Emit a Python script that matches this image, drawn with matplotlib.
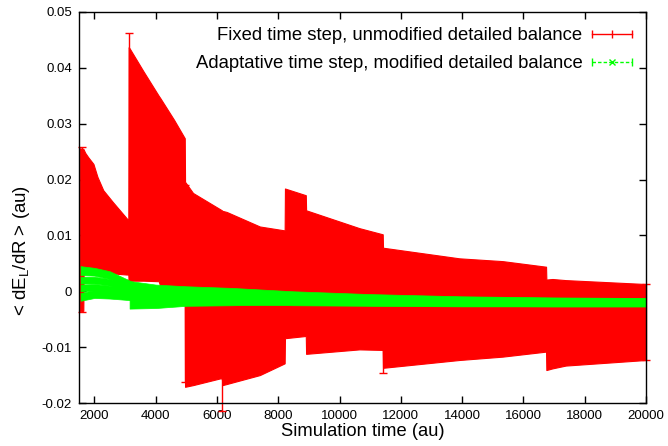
import numpy as np
import matplotlib
matplotlib.use("Agg")
import matplotlib.pyplot as plt
from matplotlib.lines import Line2D
from matplotlib.legend_handler import HandlerTuple, HandlerLine2D

plt.rcParams['font.family'] = ['Liberation Sans', 'DejaVu Sans']

# ---------------- data ----------------
# Fixed time step: envelope of the (dense) error bars
red_t = [1520, 1640, 1650, 1700, 1800, 1970, 2100, 2290, 2600, 3050, 3110, 3120,
         3150, 3600, 4100, 4150, 4600, 4950, 4960, 5220, 6100, 6160, 6180, 6320,
         7400, 8210, 8220, 8900, 8910, 10650, 11410, 11420, 13910, 15320, 16740,
         16750, 16950, 17380, 20000]
red_hi = [0.0256, 0.0255, 0.0254, 0.0248, 0.0240, 0.0228, 0.0205, 0.0181, 0.0160,
          0.0131, 0.0127, 0.0437, 0.0435, 0.0394, 0.0350, 0.0346, 0.0307, 0.0274,
          0.0196, 0.0176, 0.0147, 0.0145, 0.0144, 0.0142, 0.0116, 0.0109, 0.0184,
          0.0172, 0.0145, 0.0113, 0.0102, 0.0078, 0.0059, 0.0054, 0.0044, 0.0021,
          0.0022, 0.0020, 0.0013]
red_lo = [-0.0035, -0.0035, 0.0035, 0.0035, 0.0035, 0.0034, 0.0034, 0.0033, 0.0032,
          0.0030, 0.0030, 0.0019, 0.0019, 0.0019, 0.0018, 0.0009, 0.0008, 0.0008,
          -0.0171, -0.0168, -0.0156, -0.0156, -0.0168, -0.0166, -0.0150, -0.0129,
          -0.0084, -0.0080, -0.0112, -0.0104, -0.0105, -0.0137, -0.0123, -0.0117,
          -0.0108, -0.0141, -0.0138, -0.0133, -0.0123]
# individual red error bars that stick out of the envelope
red_spike_t = [1600, 3120, 4960, 6170, 11420, 20000]
red_spike_hi = [0.0258, 0.0462, 0.0190, 0.0100, 0.0070, 0.0013]
red_spike_lo = [-0.0037, 0.0020, -0.0162, -0.0215, -0.0147, -0.0123]

# Adaptive time step: several overlapping runs (centre, half-width)
green_t = [1550, 2000, 2500, 3200, 4000, 5000, 6500, 8500, 11000, 14000, 17000, 20000]
green_c1 = [0.0037, 0.0035, 0.0029, 0.0011, 0.0006, 0.0003, 0.0000, -0.0006,
            -0.0011, -0.0014, -0.0016, -0.0017]
green_e1 = [0.0008, 0.0007, 0.0007, 0.0007, 0.0006, 0.0006, 0.0006, 0.0006,
            0.0006, 0.0005, 0.0005, 0.0005]
green_c2 = [0.0020, 0.0020, 0.0016, 0.0004, 0.0000, -0.0003, -0.0006, -0.0010,
            -0.0014, -0.0016, -0.0018, -0.0019]
green_e2 = [0.0006] * 12
green_c3 = [0.0006, 0.0007, 0.0004, -0.0003, -0.0006, -0.0008, -0.0011, -0.0014,
            -0.0017, -0.0019, -0.0020, -0.0020]
green_e3 = [0.0006] * 12
green_c4 = [-0.0010, -0.0005, -0.0006, -0.0009, -0.0012, -0.0014, -0.0016, -0.0018,
            -0.0019, -0.0020, -0.0020, -0.0020]
green_e4 = [0.0007] * 12
green_t5 = [3150, 4000, 5000, 6500, 8500, 11000, 14000, 17000, 20000]
green_c5 = [-0.0023, -0.0022, -0.0019, -0.0018, -0.0016, -0.0018, -0.0019, -0.0020, -0.0020]
green_e5 = [0.0008, 0.0008, 0.0007, 0.0007, 0.0007, 0.0007, 0.0007, 0.0007, 0.0007]

xticks = [2000, 4000, 6000, 8000, 10000, 12000, 14000, 16000, 18000, 20000]
yticks = [-0.02, -0.01, 0, 0.01, 0.02, 0.03, 0.04, 0.05]
ytick_labels = ['-0.02', '-0.01', '0', '0.01', '0.02', '0.03', '0.04', '0.05']

label_red = "Fixed time step, unmodified detailed balance"
label_green = "Adaptative time step, modified detailed balance"

RED = '#ff0000'
GREEN = '#00ff00'

# ---------------- figure ----------------
fig = plt.figure(figsize=(6.68, 4.46), dpi=100)
ax = fig.add_axes([0.1183, 0.0964, 0.8487, 0.8767])

ax.fill_between(red_t, red_lo, red_hi, color=RED, lw=0.8, edgecolor=RED, zorder=2)
ax.errorbar(red_spike_t, [(a + b) / 2 for a, b in zip(red_spike_lo, red_spike_hi)],
            yerr=[(b - a) / 2 for a, b in zip(red_spike_lo, red_spike_hi)],
            fmt='none', ecolor=RED, elinewidth=1.0, capsize=3, capthick=1.0, zorder=2,
            clip_on=False)

for t, c, e in [(green_t, green_c1, green_e1), (green_t, green_c2, green_e2),
                (green_t, green_c3, green_e3), (green_t, green_c4, green_e4),
                (green_t5, green_c5, green_e5)]:
    c = np.asarray(c)
    e = np.asarray(e)
    ax.fill_between(t, c - e, c + e, color=GREEN, lw=0.5, edgecolor=GREEN, zorder=3)

ax.set_xlim(1500, 20000)
ax.set_ylim(-0.02, 0.05)
ax.set_xticks(xticks)
ax.set_xticklabels([str(v) for v in xticks])
ax.set_yticks(yticks)
ax.set_yticklabels(ytick_labels)
ax.tick_params(direction='in', length=5, width=1, top=True, right=True,
               labelsize=9.5, pad=5)
for s in ax.spines.values():
    s.set_linewidth(1.0)
    s.set_zorder(5)

ax.set_xlabel("Simulation time (au)", fontsize=13.2, labelpad=1)
ax.set_ylabel("< dE$_\\mathregular{L}$/dR > (au)", fontsize=13.4, labelpad=7)
ax.yaxis.label.set_y(0.39)

# legend (gnuplot style: text first, sample to the right)
h_red = Line2D([], [], color=RED, lw=1, marker='|', markersize=6, markeredgewidth=1)
h_green_line = Line2D([], [], color=GREEN, lw=1, ls=(0, (2.5, 1.5)))
h_green_ticks = Line2D([], [], color=GREEN, lw=0, marker='|', markersize=6,
                       markeredgewidth=1)
h_green_x = Line2D([], [], color=GREEN, lw=0, marker='x', markersize=5,
                   markeredgewidth=1)
leg = ax.legend([h_red, (h_green_line, h_green_ticks, h_green_x)], [label_red, label_green],
                handler_map={tuple: HandlerTuple(ndivide=1, pad=0),
                             h_green_ticks: HandlerLine2D(numpoints=2),
                             h_green_x: HandlerLine2D(numpoints=1)},
                loc='upper right', bbox_to_anchor=(1.005, 0.99), frameon=False,
                markerfirst=False, numpoints=3, handlelength=2.8, handletextpad=0.2,
                fontsize=13.3, labelspacing=0.6, borderaxespad=0.2)
for txt in leg.get_texts():
    txt.set_ha('right')
leg.set_zorder(6)

fig.savefig("out.png", dpi=100)
